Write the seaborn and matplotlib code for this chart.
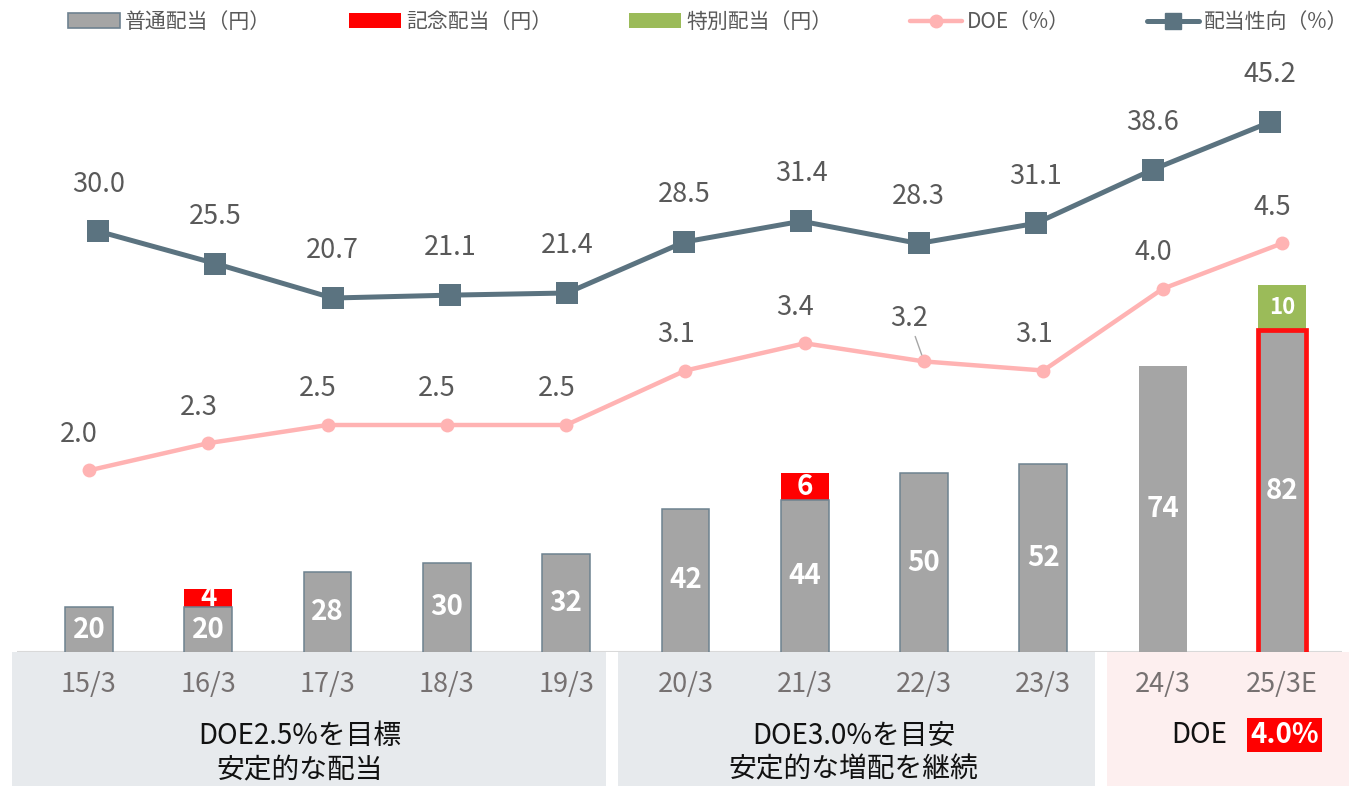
import numpy as np
import pandas as pd
import matplotlib.pyplot as plt
import matplotlib.transforms as mtransforms
from matplotlib.patches import Rectangle, Patch
from matplotlib.lines import Line2D
import seaborn as sns

periods = ["15/3", "16/3", "17/3", "18/3", "19/3", "20/3", "21/3", "22/3", "23/3", "24/3", "25/3E"]
ordinary = [20, 20, 28, 30, 32, 42, 44, 50, 52, 74, 82]
commemorative = [0, 4, 0, 0, 0, 0, 6, 0, 0, 0, 0]
special = [0, 0, 0, 0, 0, 0, 0, 0, 0, 0, 10]
doe = [2.0, 2.3, 2.5, 2.5, 2.5, 3.1, 3.4, 3.2, 3.1, 4.0, 4.5]
payout = [30.0, 25.5, 20.7, 21.1, 21.4, 28.5, 31.4, 28.3, 31.1, 38.6, 45.2]

legend_labels = ["普通配当（円）", "記念配当（円）", "特別配当（円）", "DOE（%）", "配当性向（%）"]
group_texts = ["DOE2.5%を目標\n安定的な配当", "DOE3.0%を目安\n安定的な増配を継続"]

GRAY = "#A5A5A5"
RED = "#FF0000"
GREEN = "#9BBB59"
PINK = "#FFB3B3"
TXT = "#595959"

sns.set_style("white")
plt.rcParams["font.family"] = ["Noto Sans CJK JP", "DejaVu Sans"]

df = pd.DataFrame({"period": periods, "ordinary": ordinary,
                   "commemorative": commemorative, "special": special,
                   "doe": doe, "payout": payout})
df["total"] = df["ordinary"] + df["commemorative"] + df["special"]
extra_colors = [GREEN if s > 0 else RED for s in special]
pos = np.arange(len(periods))

fig = plt.figure(figsize=(13.49, 7.86), dpi=100)
rect = [17.4 / 1349, 134 / 786, 1324.2 / 1349, 602 / 786]
ax = fig.add_axes(rect)

# extra dividends drawn as full-height bars, ordinary drawn on top
sns.barplot(data=df, x="period", y="total", hue="period", palette=extra_colors,
            legend=False, width=0.4, saturation=1, linewidth=0, ax=ax)
n_extra = len(ax.patches)
sns.barplot(data=df, x="period", y="ordinary", color=GRAY, width=0.4,
            saturation=1, ax=ax)
base_bars = ax.patches[n_extra:]
for i, b in enumerate(base_bars):
    if i == len(base_bars) - 1:
        b.set_edgecolor("#FF1010"); b.set_linewidth(3.4)
    elif i == len(base_bars) - 2:
        b.set_linewidth(0)
    else:
        b.set_edgecolor("#6E8290"); b.set_linewidth(1.1)
ax.set_xlim(-0.6, 10.5)
ax.set_ylim(10, 10 + 602 / 4.47)

for i, v in enumerate(ordinary):
    ax.text(i, (10 + v) / 2, str(v), ha="center", va="center", color="white",
            fontsize=20, fontweight="bold")
for i, (v, c, s) in enumerate(zip(ordinary, commemorative, special)):
    e = c + s
    if e > 0:
        ax.text(i, v + e / 2, str(e), ha="center", va="center", color="white",
                fontsize=20 if s == 0 else 16, fontweight="bold")

ax.set_xlabel(""); ax.set_ylabel("")
ax.set_yticks([])
ax.tick_params(axis="x", length=0, pad=14, labelsize=19.5, labelcolor="#767171")
sns.despine(ax=ax, left=True, bottom=True)
ax.axhline(10, color="#D9D9D9", lw=1.5, zorder=0.5)

# DOE line
ax_doe = ax.twinx()
sns.lineplot(x=pos, y=doe, ax=ax_doe, color=PINK, lw=3.2, marker="o",
             markersize=10, markeredgewidth=0)
ax_doe.set_ylim(0, 602 / 90.8)
for i, v in enumerate(doe):
    if i == 7:
        ax_doe.annotate(f"{v:.1f}", (i, v), xytext=(-11, 31), textcoords="offset points",
                        ha="center", va="center", fontsize=19.5, color=TXT,
                        arrowprops=dict(arrowstyle="-", color="#A6A6A6", lw=1,
                                        shrinkA=1, shrinkB=5))
    else:
        ax_doe.annotate(f"{v:.1f}", (i, v), xytext=(-7, 26), textcoords="offset points",
                        ha="center", va="center", fontsize=19.5, color=TXT)

# payout line (its own x scale, as in the source)
ax_pay = fig.add_axes(rect, label="payout")
ax_pay.patch.set_alpha(0)
sns.lineplot(x=pos, y=payout, ax=ax_pay, color="#5B7380", lw=3.6, marker="s",
             markersize=16, markeredgewidth=0)
ax_pay.set_xlim(-0.69, 10.61)
ax_pay.set_ylim(-28.6, -28.6 + 602 / 7.18)
for i, v in enumerate(payout):
    ax_pay.annotate(f"{v:.1f}", (i, v), xytext=(0, 34), textcoords="offset points",
                    ha="center", va="center", fontsize=19.5, color=TXT)

for a in (ax_doe, ax_pay):
    a.set_axis_off()

# bands under the axis
tr = mtransforms.blended_transform_factory(ax.transData, ax.transAxes)
bands = [(-0.645, 4.333, "#E7EAED"), (4.434, 8.433, "#E7EAED"), (8.533, 10.6, "#FDEFEF")]
for x0, x1, col in bands:
    ax.add_patch(Rectangle((x0, -0.25), x1 - x0, 0.25, transform=tr, facecolor=col,
                           edgecolor="none", clip_on=False, zorder=-1))
ax.text(1.77, -0.167, group_texts[0], transform=tr, ha="center", va="center",
        fontsize=20, color="#111111", linespacing=1.15)
ax.text(6.41, -0.167, group_texts[1], transform=tr, ha="center", va="center",
        fontsize=20, color="#111111", linespacing=1.15)
ax.text(9.31, -0.138, "DOE", transform=tr, ha="center", va="center",
        fontsize=20, color="#111111")
ax.text(10.02, -0.138, "4.0%", transform=tr, ha="center", va="center",
        fontsize=20, color="white", fontweight="bold",
        bbox=dict(boxstyle="square,pad=0.12", facecolor=RED, edgecolor="none"))

handles = [Patch(facecolor=GRAY, edgecolor="#6E8290", linewidth=1.2),
           Patch(facecolor=RED, edgecolor="none"),
           Patch(facecolor=GREEN, edgecolor="none"),
           Line2D([], [], color=PINK, lw=3.2, marker="o", markersize=9),
           Line2D([], [], color="#5B7380", lw=3.6, marker="s", markersize=11)]
fig.legend(handles, legend_labels, ncol=5, loc="upper left",
           bbox_to_anchor=(68 / 1349, 1 - 11 / 786), frameon=False, fontsize=15,
           labelcolor=TXT, handlelength=2.5, handletextpad=0.25, columnspacing=3.7,
           borderpad=0, borderaxespad=0)

fig.savefig("out.png", dpi=100)
